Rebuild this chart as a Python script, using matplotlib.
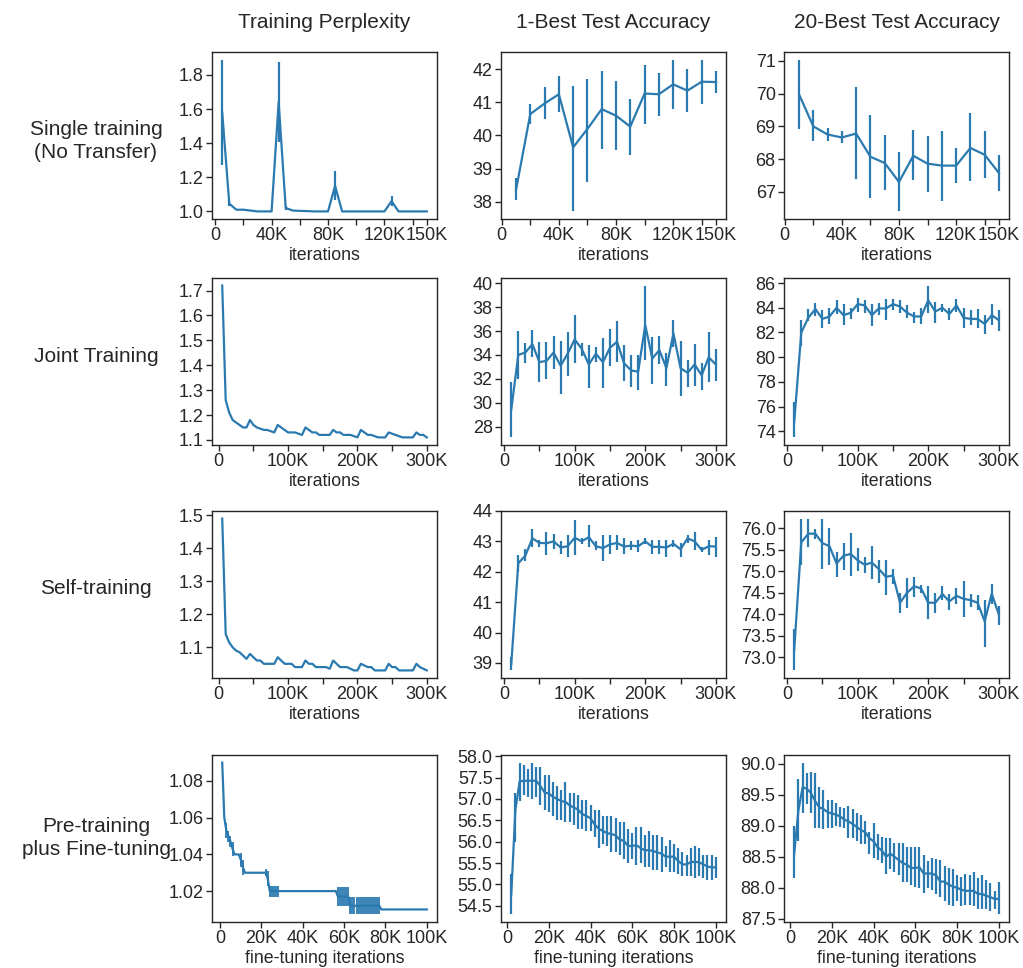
import matplotlib.pyplot as plt
import numpy as np

plt.rcParams["font.family"] = ["Liberation Sans", "DejaVu Sans"]

# iterations in thousands
it_ppl = np.arange(5, 301, 5)
it_acc = np.arange(10, 301, 10)
it_ft_ppl = np.arange(1, 101)
it_ft_acc = np.arange(2, 101, 2)

col_titles = ["Training Perplexity", "1-Best Test Accuracy", "20-Best Test Accuracy"]
row_titles = ["Single training\n(No Transfer)", "Joint Training", "Self-training",
              "Pre-training\nplus Fine-tuning"]

# ---- single training (no transfer), 150K ----
single_ppl = [1.58, 1.045, 1.01, 1.01, 1.005, 1.0, 1.0, 1.0, 1.64, 1.02,
              1.005, 1.003, 1.002, 1.0, 1.0, 1.0, 1.15, 1.0, 1.0, 1.0,
              1.0, 1.0, 1.0, 1.0, 1.06, 1.0, 1.0, 1.0, 1.0, 1.0]
single_ppl_err = [0.31, 0.015, 0, 0, 0, 0, 0, 0, 0.235, 0.01,
                  0, 0, 0, 0, 0, 0, 0.085, 0, 0, 0,
                  0, 0, 0, 0, 0.03, 0, 0, 0, 0, 0]
single_1b = [38.35, 40.65, 40.97, 41.25, 39.64, 40.2, 40.8, 40.6, 40.27, 41.27,
             41.25, 41.55, 41.36, 41.63, 41.62]
single_1b_lo = [38.05, 40.35, 40.5, 40.7, 37.7, 38.6, 39.6, 39.55, 39.4, 40.35,
                40.6, 40.8, 40.7, 40.95, 41.3]
single_1b_hi = [38.7, 40.95, 41.47, 41.8, 41.5, 41.7, 41.95, 41.65, 41.1, 42.15,
                41.9, 42.3, 42.0, 42.3, 41.95]
single_20b = [69.98, 69.0, 68.75, 68.66, 68.78, 68.07, 67.88, 67.3, 68.1, 67.86,
              67.8, 67.8, 68.34, 68.13, 67.57]
single_20b_lo = [68.92, 68.55, 68.55, 68.48, 67.4, 66.8, 67.05, 66.4, 67.35, 67.0,
                 66.73, 67.27, 67.32, 67.42, 67.03]
single_20b_hi = [71.04, 69.5, 68.95, 68.85, 70.2, 69.35, 68.73, 68.22, 68.9, 68.7,
                 68.86, 68.33, 69.4, 68.86, 68.13]

# ---- joint training, 300K ----
joint_ppl = [1.72, 1.26, 1.21, 1.18, 1.17, 1.16, 1.15, 1.15, 1.18, 1.16,
             1.15, 1.145, 1.14, 1.14, 1.135, 1.13, 1.16, 1.15, 1.14, 1.13,
             1.13, 1.13, 1.125, 1.12, 1.15, 1.14, 1.13, 1.13, 1.12, 1.12,
             1.12, 1.12, 1.14, 1.13, 1.13, 1.12, 1.12, 1.12, 1.115, 1.11,
             1.14, 1.13, 1.12, 1.12, 1.115, 1.11, 1.11, 1.11, 1.13, 1.125,
             1.12, 1.115, 1.11, 1.11, 1.11, 1.11, 1.13, 1.12, 1.12, 1.11]
joint_1b = [29.4, 34.0, 34.2, 34.9, 33.4, 33.5, 34.2, 33.1, 34.1, 35.3,
            34.5, 33.2, 34.1, 33.4, 34.6, 35.1, 33.3, 32.7, 32.6, 36.5,
            33.7, 34.4, 32.9, 35.8, 32.9, 32.5, 33.2, 32.3, 33.8, 33.2]
joint_1b_lo = [27.1, 32.0, 33.3, 33.8, 31.7, 32.0, 32.8, 30.7, 32.2, 33.3,
               33.9, 31.2, 33.4, 31.2, 33.1, 33.4, 31.8, 31.3, 31.1, 33.6,
               31.6, 33.2, 31.4, 34.7, 30.6, 31.3, 31.4, 31.1, 31.7, 31.8]
joint_1b_hi = [31.7, 36.0, 35.0, 36.1, 35.1, 35.1, 35.6, 35.2, 35.9, 37.3,
               35.0, 34.8, 34.7, 35.4, 36.2, 36.8, 34.8, 34.0, 34.0, 39.8,
               35.5, 35.6, 34.2, 36.9, 35.2, 33.6, 34.9, 33.3, 35.9, 34.5]
joint_20b = [74.75, 82.0, 83.2, 83.9, 83.1, 83.3, 84.0, 83.4, 83.6, 84.3,
             84.2, 83.4, 83.95, 83.95, 84.3, 84.1, 83.6, 83.3, 83.3, 84.6,
             83.7, 84.0, 83.5, 84.2, 83.2, 83.1, 83.1, 82.7, 83.4, 83.0]
joint_20b_lo = [73.5, 80.9, 82.9, 83.3, 82.4, 82.7, 83.5, 82.6, 83.1, 83.7,
                83.6, 82.5, 83.4, 83.0, 83.8, 83.6, 83.2, 82.8, 82.7, 83.6,
                82.8, 83.7, 83.0, 83.7, 82.4, 82.6, 82.4, 81.9, 82.6, 82.1]
joint_20b_hi = [76.4, 83.0, 83.9, 84.4, 83.8, 84.0, 84.6, 84.3, 84.0, 84.8,
                84.6, 84.3, 84.4, 84.7, 84.7, 84.6, 84.2, 83.7, 84.0, 85.8,
                84.5, 84.3, 84.0, 84.7, 84.0, 83.8, 83.9, 83.4, 84.3, 83.8]

# ---- self-training, 300K ----
self_ppl = [1.49, 1.14, 1.115, 1.10, 1.09, 1.085, 1.075, 1.065, 1.08, 1.07,
            1.06, 1.06, 1.05, 1.05, 1.05, 1.05, 1.07, 1.06, 1.05, 1.05,
            1.05, 1.04, 1.04, 1.04, 1.06, 1.05, 1.05, 1.04, 1.04, 1.04,
            1.04, 1.035, 1.06, 1.05, 1.04, 1.04, 1.04, 1.035, 1.03, 1.03,
            1.05, 1.045, 1.04, 1.04, 1.03, 1.03, 1.03, 1.03, 1.05, 1.04,
            1.04, 1.03, 1.03, 1.03, 1.03, 1.03, 1.05, 1.04, 1.035, 1.03]
self_1b = [38.95, 42.28, 42.53, 43.1, 42.95, 42.94, 43.0, 42.8, 42.84, 43.12,
           43.0, 43.14, 42.84, 42.78, 42.9, 42.95, 42.83, 42.86, 42.84, 43.0,
           42.82, 42.82, 42.8, 42.92, 42.74, 43.1, 43.0, 42.72, 42.84, 42.83]
self_1b_lo = [38.75, 42.0, 42.35, 42.8, 42.8, 42.55, 42.75, 42.6, 42.5, 42.55,
              42.9, 42.8, 42.7, 42.35, 42.6, 42.7, 42.6, 42.7, 42.65, 42.9,
              42.6, 42.6, 42.5, 42.8, 42.5, 42.95, 42.7, 42.65, 42.55, 42.5]
self_1b_hi = [39.2, 42.55, 42.75, 43.4, 43.05, 43.3, 43.25, 43.0, 43.2, 43.7,
              43.1, 43.55, 43.0, 43.2, 43.2, 43.2, 43.1, 43.0, 43.05, 43.1,
              43.05, 43.05, 43.05, 43.05, 42.95, 43.2, 43.3, 42.8, 43.05, 43.15]
self_20b = [73.18, 75.67, 75.87, 75.87, 75.65, 75.58, 75.18, 75.36, 75.4, 75.25,
            75.15, 75.2, 75.05, 74.87, 74.9, 74.27, 74.5, 74.65, 74.6, 74.27,
            74.27, 74.47, 74.3, 74.43, 74.36, 74.33, 74.27, 73.84, 74.48, 74.0]
self_20b_lo = [72.7, 75.15, 75.55, 75.75, 75.05, 75.15, 74.87, 75.03, 74.9, 75.0,
               74.95, 74.83, 74.72, 74.45, 74.7, 74.03, 74.15, 74.4, 74.5, 73.9,
               74.02, 74.33, 74.1, 74.25, 73.93, 74.17, 74.1, 73.25, 74.25, 73.75]
self_20b_hi = [73.65, 76.2, 76.2, 75.97, 76.22, 76.0, 75.45, 75.65, 75.88, 75.53,
               75.33, 75.58, 75.25, 75.25, 75.06, 74.5, 74.85, 74.87, 74.67, 74.65,
               74.5, 74.65, 74.48, 74.62, 74.77, 74.48, 74.45, 74.33, 74.7, 74.2]

# ---- pre-training plus fine-tuning, 100K ----
ft_ppl = [1.09, 1.06, 1.053, 1.05, 1.047, 1.043, 1.04, 1.04, 1.04, 1.037,
          1.033, 1.03, 1.03, 1.03, 1.03, 1.03, 1.03, 1.03, 1.03, 1.03,
          1.03, 1.03, 1.027, 1.02, 1.02, 1.02, 1.02, 1.02, 1.02, 1.02,
          1.02, 1.02, 1.02, 1.02, 1.02, 1.02, 1.02, 1.02, 1.02, 1.02,
          1.02, 1.02, 1.02, 1.02, 1.02, 1.02, 1.02, 1.02, 1.02, 1.02,
          1.02, 1.02, 1.02, 1.02, 1.02, 1.02, 1.017, 1.017, 1.017, 1.017,
          1.017, 1.017, 1.012, 1.012, 1.012, 1.012, 1.012, 1.012, 1.012, 1.012,
          1.012, 1.012, 1.012, 1.012, 1.012, 1.012, 1.012, 1.01, 1.01, 1.01,
          1.01, 1.01, 1.01, 1.01, 1.01, 1.01, 1.01, 1.01, 1.01, 1.01,
          1.01, 1.01, 1.01, 1.01, 1.01, 1.01, 1.01, 1.01, 1.01, 1.01]
ft_ppl_err = [0, 0, 0.004, 0.003, 0.003, 0.004, 0, 0, 0, 0.004,
              0.004, 0, 0, 0, 0, 0, 0, 0, 0, 0,
              0, 0.002, 0.004, 0.003, 0.003, 0.003, 0.003, 0.003, 0, 0,
              0, 0, 0, 0, 0, 0, 0, 0, 0, 0,
              0, 0, 0, 0, 0, 0, 0, 0, 0, 0,
              0, 0, 0, 0, 0, 0, 0.005, 0.005, 0.005, 0.005,
              0.005, 0.005, 0.0047, 0.0047, 0.0047, 0.0047, 0.0047, 0.0047, 0.0047, 0.0047,
              0.0047, 0.0047, 0.0047, 0.0047, 0.0047, 0.0047, 0.0047, 0, 0, 0,
              0, 0, 0, 0, 0, 0, 0, 0, 0, 0,
              0, 0, 0, 0, 0, 0, 0, 0, 0, 0]
ft_1b = [54.75, 56.75, 57.4, 57.43, 57.42, 57.43, 57.42, 57.3, 57.15, 57.13,
         57.05, 57.0, 56.95, 56.93, 56.85, 56.8, 56.75, 56.65, 56.6, 56.55,
         56.4, 56.3, 56.25, 56.2, 56.18, 56.15, 56.05, 56.02, 55.9, 55.9,
         55.92, 55.85, 55.8, 55.8, 55.78, 55.75, 55.72, 55.65, 55.65, 55.65,
         55.55, 55.47, 55.47, 55.52, 55.53, 55.52, 55.47, 55.42, 55.4, 55.4]
ft_1b_lo = [54.3, 56.0, 56.95, 57.1, 57.05, 57.0, 57.05, 56.85, 56.75, 56.7,
            56.6, 56.5, 56.5, 56.45, 56.45, 56.4, 56.3, 56.3, 56.25, 56.25,
            56.1, 55.85, 55.95, 55.9, 55.75, 55.75, 55.7, 55.6, 55.5, 55.6,
            55.45, 55.5, 55.4, 55.4, 55.35, 55.35, 55.3, 55.4, 55.3, 55.3,
            55.25, 55.2, 55.2, 55.2, 55.15, 55.2, 55.15, 55.1, 55.1, 55.15]
ft_1b_hi = [55.25, 57.15, 57.85, 57.8, 57.7, 57.85, 57.75, 57.75, 57.55, 57.55,
            57.4, 57.3, 57.2, 57.4, 57.15, 57.15, 57.1, 56.97, 56.98, 56.85,
            56.75, 56.75, 56.6, 56.6, 56.6, 56.55, 56.45, 56.45, 56.3, 56.2,
            56.35, 56.35, 56.15, 56.25, 56.15, 56.15, 56.1, 55.9, 56.05, 55.95,
            55.85, 55.75, 55.7, 55.85, 55.9, 55.85, 55.7, 55.7, 55.7, 55.65]
ft_20b = [88.55, 89.25, 89.62, 89.6, 89.53, 89.4, 89.3, 89.27, 89.22, 89.2,
          89.18, 89.15, 89.1, 89.07, 89.03, 88.98, 88.93, 88.9, 88.8, 88.75,
          88.65, 88.6, 88.5, 88.55, 88.5, 88.45, 88.4, 88.37, 88.32, 88.32,
          88.33, 88.23, 88.23, 88.23, 88.2, 88.1, 88.1, 88.05, 88.02, 88.0,
          87.97, 87.95, 87.95, 87.95, 87.9, 87.9, 87.87, 87.85, 87.82, 87.82]
ft_20b_lo = [88.15, 88.75, 89.2, 89.35, 89.2, 88.97, 88.97, 88.95, 88.97, 88.97,
             89.0, 88.98, 88.97, 88.8, 88.8, 88.75, 88.7, 88.7, 88.55, 88.48,
             88.45, 88.4, 88.22, 88.3, 88.25, 88.2, 88.1, 88.1, 88.05, 88.02,
             88.0, 87.92, 88.0, 87.97, 87.9, 87.85, 87.78, 87.72, 87.7, 87.78,
             87.7, 87.72, 87.72, 87.7, 87.65, 87.65, 87.65, 87.62, 87.65, 87.57]
ft_20b_hi = [89.0, 89.75, 90.02, 89.85, 89.87, 89.85, 89.62, 89.57, 89.42, 89.42,
             89.37, 89.3, 89.28, 89.32, 89.27, 89.2, 89.17, 89.08, 88.9, 89.05,
             88.87, 88.82, 88.8, 88.8, 88.72, 88.72, 88.72, 88.65, 88.65, 88.65,
             88.65, 88.53, 88.43, 88.48, 88.47, 88.45, 88.35, 88.32, 88.3, 88.2,
             88.17, 88.22, 88.2, 88.25, 88.15, 88.2, 88.12, 88.07, 87.95, 88.1]

blue = "#2a7ab0"
ink = "#262626"


def draw(ax, x, mean, lo=None, hi=None, err=None, elw=1.6):
    mean = np.asarray(mean)
    if err is not None:
        yerr = np.asarray(err)
    else:
        yerr = [mean - np.asarray(lo), np.asarray(hi) - mean]
    ax.errorbar(x, mean, yerr=yerr, color=blue, lw=1.6, elinewidth=elw, capsize=0)


fig = plt.figure(figsize=(10.23, 9.68), dpi=100)
W, H = 1023, 968
col_left = [212, 501, 784]
row_top = [52, 278, 511, 755]
aw, ah = 225, 167

axes = [[fig.add_axes([l / W, 1 - (t + ah) / H, aw / W, ah / H]) for l in col_left]
        for t in row_top]

draw(axes[0][0], it_ppl[:30], single_ppl, err=single_ppl_err)
draw(axes[0][1], it_acc[:15], single_1b, single_1b_lo, single_1b_hi)
draw(axes[0][2], it_acc[:15], single_20b, single_20b_lo, single_20b_hi)
draw(axes[1][0], it_ppl, joint_ppl, err=np.zeros(60))
draw(axes[1][1], it_acc, joint_1b, joint_1b_lo, joint_1b_hi)
draw(axes[1][2], it_acc, joint_20b, joint_20b_lo, joint_20b_hi)
draw(axes[2][0], it_ppl, self_ppl, err=np.zeros(60))
draw(axes[2][1], it_acc, self_1b, self_1b_lo, self_1b_hi)
draw(axes[2][2], it_acc, self_20b, self_20b_lo, self_20b_hi)
draw(axes[3][0], it_ft_ppl, ft_ppl, err=ft_ppl_err, elw=1.3)
draw(axes[3][1], it_ft_acc, ft_1b, ft_1b_lo, ft_1b_hi)
draw(axes[3][2], it_ft_acc, ft_20b, ft_20b_lo, ft_20b_hi)

yticks = [
    [[1.0, 1.2, 1.4, 1.6, 1.8], [38, 39, 40, 41, 42], [67, 68, 69, 70, 71]],
    [[1.1, 1.2, 1.3, 1.4, 1.5, 1.6, 1.7], [28, 30, 32, 34, 36, 38, 40],
     [74, 76, 78, 80, 82, 84, 86]],
    [[1.1, 1.2, 1.3, 1.4, 1.5], [39, 40, 41, 42, 43, 44],
     [73.0, 73.5, 74.0, 74.5, 75.0, 75.5, 76.0]],
    [[1.02, 1.04, 1.06, 1.08], [54.5, 55.0, 55.5, 56.0, 56.5, 57.0, 57.5, 58.0],
     [87.5, 88.0, 88.5, 89.0, 89.5, 90.0]],
]
yfmt = [["{:.1f}", "{:.0f}", "{:.0f}"], ["{:.1f}", "{:.0f}", "{:.0f}"],
        ["{:.1f}", "{:.0f}", "{:.1f}"], ["{:.2f}", "{:.1f}", "{:.1f}"]]

xt_major = [[0, 40, 80, 120, 150], [0, 100, 200, 300], [0, 100, 200, 300],
            [0, 20, 40, 60, 80, 100]]
xt_minor = [[20, 60, 100, 140], [50, 150, 250], [50, 150, 250], []]

for r in range(4):
    for c in range(3):
        ax = axes[r][c]
        if r == 0 and c > 0:
            ax.set_xlim(left=-0.5)
        ax.set_xticks(xt_major[r], ["0" if v == 0 else f"{v}K" for v in xt_major[r]])
        ax.set_xticks(xt_minor[r], minor=True)
        ax.set_yticks(yticks[r][c], [yfmt[r][c].format(v) for v in yticks[r][c]])
        ax.tick_params(which="both", length=4, width=1, color=ink, labelcolor=ink,
                       labelsize=13, pad=2)
        for s in ax.spines.values():
            s.set_color(ink)
            s.set_linewidth(1)
        ax.set_xlabel("fine-tuning iterations" if r == 3 else "iterations",
                      fontsize=12.8, color=ink, labelpad=2)

for c, t in enumerate(col_titles):
    fig.text((col_left[c] + aw / 2) / W, 1 - 22 / H, t, ha="center", va="center",
             fontsize=15, color=ink)
row_mid = [141, 357, 589, 838]
for r, t in enumerate(row_titles):
    fig.text(96 / W, 1 - row_mid[r] / H, t, ha="center", va="center",
             fontsize=15, color=ink, linespacing=1.3)

fig.savefig("out.png", dpi=100)
